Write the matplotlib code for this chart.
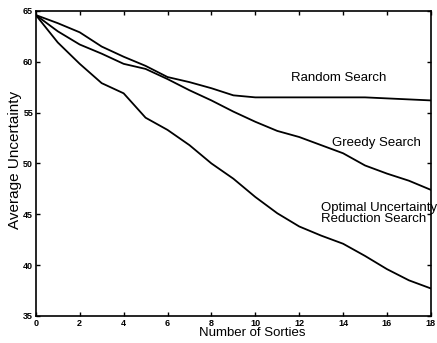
import matplotlib
matplotlib.use("Agg")
import matplotlib.pyplot as plt

sorties = list(range(19))
random_search = [64.6, 63.8, 62.9, 61.5, 60.5, 59.6, 58.5, 58.0, 57.4, 56.7,
                 56.5, 56.5, 56.5, 56.5, 56.5, 56.5, 56.4, 56.3, 56.2]
greedy_search = [64.6, 63.0, 61.7, 60.8, 59.8, 59.3, 58.3, 57.2, 56.2, 55.1,
                 54.1, 53.2, 52.6, 51.8, 51.0, 49.8, 49.0, 48.3, 47.4]
optimal_search = [64.6, 61.9, 59.8, 57.9, 56.9, 54.5, 53.3, 51.8, 50.0, 48.5,
                  46.7, 45.1, 43.8, 42.9, 42.1, 40.9, 39.6, 38.5, 37.7]
xticks = [0, 2, 4, 6, 8, 10, 12, 14, 16, 18]
yticks = [35, 40, 45, 50, 55, 60, 65]

plt.rcParams['font.family'] = ['Liberation Sans', 'DejaVu Sans']

fig = plt.figure(figsize=(4.37, 3.43), dpi=100)
ax = fig.add_axes([0.082, 0.079, 0.904, 0.889])
for ys in (random_search, greedy_search, optimal_search):
    ax.plot(sorties, ys, color='black', lw=1.3)

ax.set_xlim(0, 18)
ax.set_ylim(35, 65)
ax.set_xticks(xticks)
ax.set_yticks(yticks)
ax.tick_params(direction='in', top=True, right=True, length=3, width=1,
               labelsize=6.5, pad=2)
for lab in ax.get_xticklabels() + ax.get_yticklabels():
    lab.set_fontweight('bold')
for s in ax.spines.values():
    s.set_linewidth(1.2)

ax.set_xlabel('Number of Sorties', fontsize=9.5, va='center')
ax.xaxis.set_label_coords(0.549, -0.056)
ax.set_ylabel('Average Uncertainty', fontsize=11, va='center')
ax.yaxis.set_label_coords(-0.052, 0.51)

ax.text(13.8, 58.4, 'Random Search', fontsize=9.5, ha='center', va='center')
ax.text(15.5, 52.0, 'Greedy Search', fontsize=9.5, ha='center', va='center')
ax.text(13.0, 45.1, 'Optimal Uncertainty\nReduction Search', fontsize=9.5,
        ha='left', va='center', linespacing=0.85, clip_on=False)

fig.savefig('out.png', dpi=100)
